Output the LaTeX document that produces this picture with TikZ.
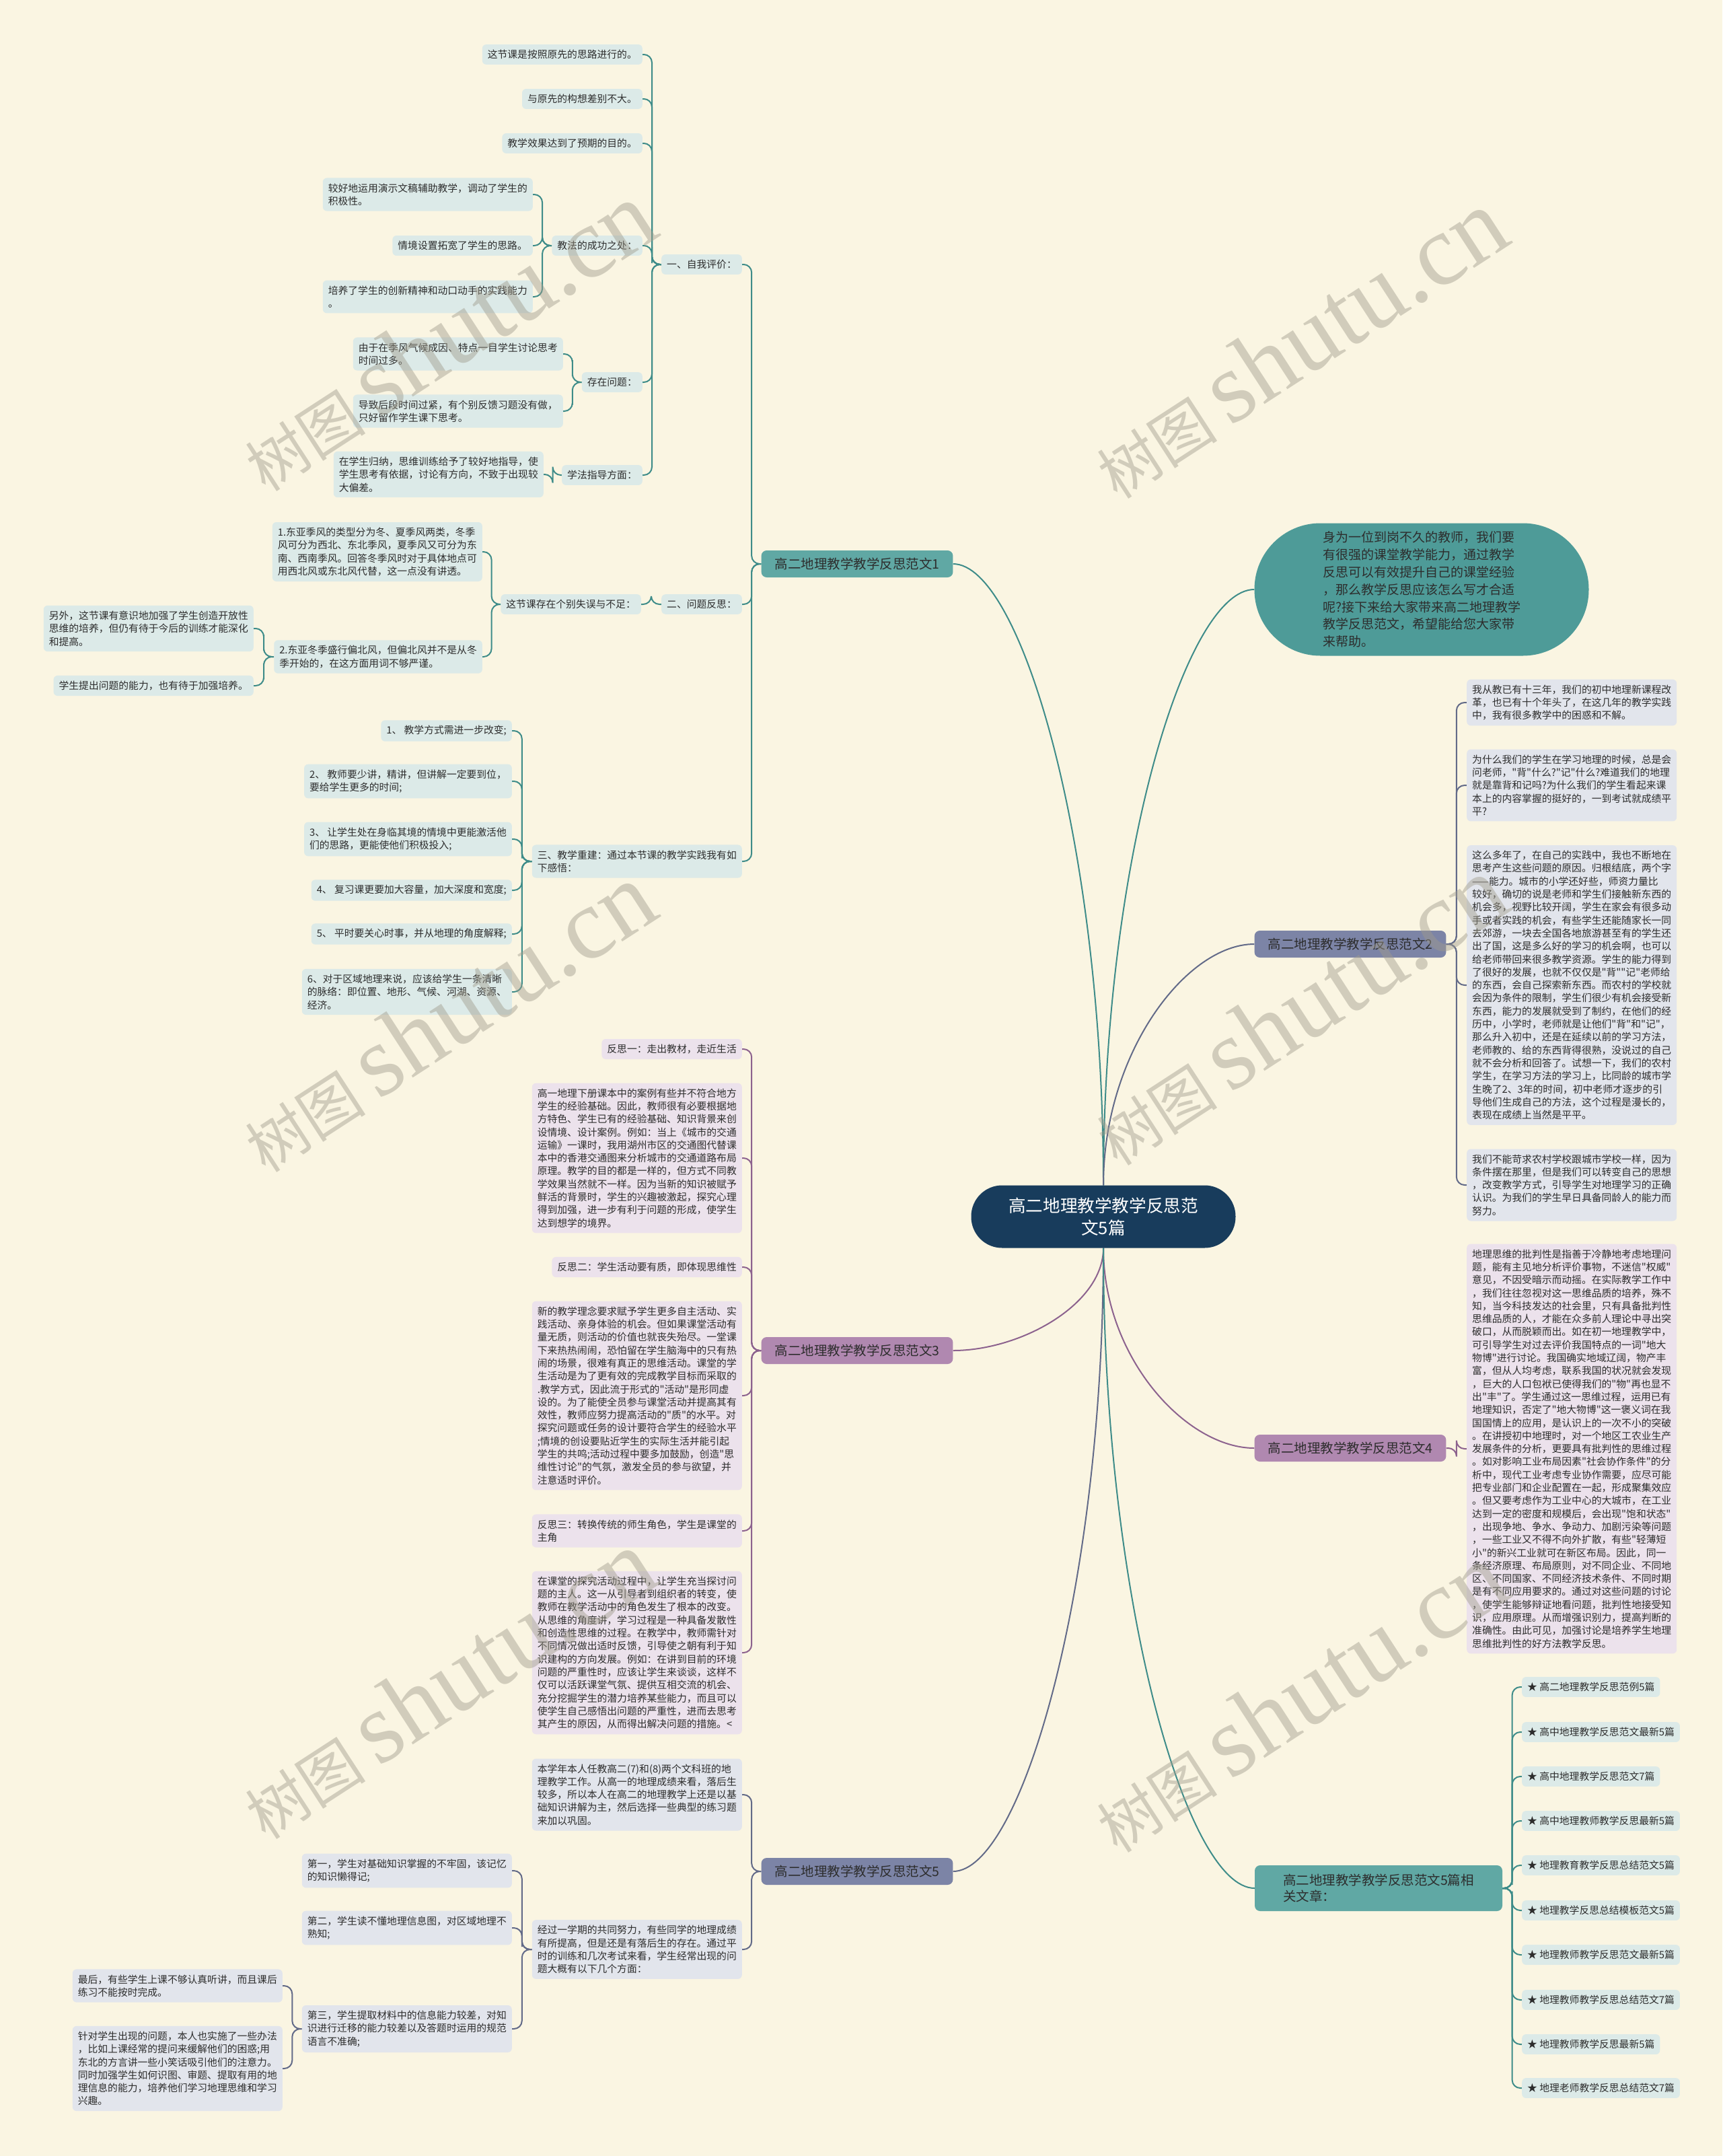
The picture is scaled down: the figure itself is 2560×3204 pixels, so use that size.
\documentclass[tikz,border=0pt]{standalone}
\usepackage{fontspec}
\setmainfont{Noto Sans CJK SC}[Ligatures=TeXOff]
\newfontfamily\markfont{Liberation Serif}
\usetikzlibrary{calc}
\definecolor{paper}{RGB}{250,245,226}
\definecolor{ink}{RGB}{45,45,45}
\definecolor{navy}{RGB}{24,60,92}
\definecolor{tealmain}{RGB}{78,155,152}
\definecolor{tealtopic}{RGB}{96,168,164}
\definecolor{tealline}{RGB}{62,140,137}
\definecolor{tealpale}{RGB}{220,234,232}
\definecolor{slatemain}{RGB}{124,132,166}
\definecolor{slateline}{RGB}{98,106,136}
\definecolor{slatepale}{RGB}{226,229,236}
\definecolor{plummain}{RGB}{176,136,176}
\definecolor{plumline}{RGB}{140,98,142}
\definecolor{plumpale}{RGB}{236,226,236}
\definecolor{wmgray}{RGB}{160,156,140}
\pgfdeclarelayer{paperlayer}
\pgfdeclarelayer{lines}
\pgfsetlayers{paperlayer,lines,main}

\begin{document}
\begin{tikzpicture}[x=1pt, y=-1pt,
    topic/.style={rounded corners=8pt, minimum width=284pt, minimum height=40pt, inner xsep=20pt, inner ysep=9pt,
        font=\fontsize{19.5}{24}\selectfont, text=ink},
    leaf/.style={rounded corners=6pt, inner xsep=8pt, inner ysep=8pt, align=left,
        font=\fontsize{14.8}{19.3}\selectfont, text=ink},
    tealleaf/.style={leaf, fill=tealpale},
    slateleaf/.style={leaf, fill=slatepale},
    plumleaf/.style={leaf, fill=plumpale},
    link/.style={line width=2pt, rounded corners=12pt,
        to path={-| ($(\tikztostart)!.5!(\tikztotarget)$) |- (\tikztotarget)}},
    hub/.style={line width=2pt,
        to path={.. controls ($(\tikztostart)!.55!(\tikztostart |- \tikztotarget)$)
            and ($(\tikztotarget)!.45!(\tikztostart |- \tikztotarget)$) .. (\tikztotarget)}},
    wmark/.style={text=wmgray, opacity=0.45, rotate=33, inner sep=0pt}
    ]
\begin{pgfonlayer}{paperlayer}
    \fill[paper] (0,0) rectangle (2560,3204);
\end{pgfonlayer}
\useasboundingbox (0,0) rectangle (2560,3204);

\node[fill=navy, text=white, rounded corners=46pt, minimum width=393pt, minimum height=93pt, align=center,
    font=\fontsize{25.6}{33}\selectfont] (ctr) at (1640,1808) {高二地理教学教学反思范\\文5篇};

\node[fill=tealmain, text=ink, rounded corners=98pt, minimum width=497pt, minimum height=197pt, align=left,
    font=\fontsize{19}{25.8}\selectfont] (intro) at (2113,876)
    {身为一位到岗不久的教师，我们要\\有很强的课堂教学能力，通过教学\\反思可以有效提升自己的课堂经验\\，那么教学反思应该怎么写才合适\\呢?接下来给大家带来高二地理教学\\教学反思范文，希望能给您大家带\\来帮助。};

\node[topic, fill=tealtopic] (f1) at (1274,838) {高二地理教学教学反思范文1};
\node[topic, fill=slatemain] (f2) at (2007,1403) {高二地理教学教学反思范文2};
\node[topic, fill=plummain] (f3) at (1274,2007) {高二地理教学教学反思范文3};
\node[topic, fill=plummain] (f4) at (2007,2152) {高二地理教学教学反思范文4};
\node[topic, fill=slatemain] (f5) at (1274,2781) {高二地理教学教学反思范文5};
\node[topic, fill=tealtopic, minimum width=368pt, minimum height=68pt, align=left] (f6) at (2049,2806)
    {高二地理教学教学反思范文5篇相\\关文章：};

% 范文1
\node[tealleaf, anchor=east] (a) at (1103,393) {一、自我评价：};
\node[tealleaf, anchor=east] (a1) at (955,81) {这节课是按照原先的思路进行的。};
\node[tealleaf, anchor=east] (a2) at (955,147) {与原先的构想差别不大。};
\node[tealleaf, anchor=east] (a3) at (955,213) {教学效果达到了预期的目的。};
\node[tealleaf, anchor=east] (a4) at (955,365) {教法的成功之处：};
\node[tealleaf, anchor=east] (a5) at (955,568) {存在问题：};
\node[tealleaf, anchor=east] (a6) at (955,706) {学法指导方面：};
\node[tealleaf, anchor=east] (a41) at (792,289) {较好地运用演示文稿辅助教学，调动了学生的\\积极性。};
\node[tealleaf, anchor=east] (a42) at (792,365) {情境设置拓宽了学生的思路。};
\node[tealleaf, anchor=east] (a43) at (792,441) {培养了学生的创新精神和动口动手的实践能力\\。};
\node[tealleaf, anchor=east] (a51) at (837,526) {由于在季风气候成因、特点一目学生讨论思考\\时间过多。};
\node[tealleaf, anchor=east] (a52) at (837,611) {导致后段时间过紧，有个别反馈习题没有做，\\只好留作学生课下思考。};
\node[tealleaf, anchor=east] (a61) at (808,705) {在学生归纳，思维训练给予了较好地指导，使\\学生思考有依据，讨论有方向，不致于出现较\\大偏差。};

\node[tealleaf, anchor=east] (b) at (1103,898) {二、问题反思：};
\node[tealleaf, anchor=east] (b1) at (953,898) {这节课存在个别失误与不足：};
\node[tealleaf, anchor=east] (b11) at (717,820) {1.东亚季风的类型分为冬、夏季风两类，冬季\\风可分为西北、东北季风，夏季风又可分为东\\南、西南季风。回答冬季风时对于具体地点可\\用西北风或东北风代替，这一点没有讲透。};
\node[tealleaf, anchor=east] (b12) at (717,976) {2.东亚冬季盛行偏北风，但偏北风并不是从冬\\季开始的，在这方面用词不够严谨。};
\node[tealleaf, anchor=east] (b121) at (377,934) {另外，这节课有意识地加强了学生创造开放性\\思维的培养，但仍有待于今后的训练才能深化\\和提高。};
\node[tealleaf, anchor=east] (b122) at (377,1019) {学生提出问题的能力，也有待于加强培养。};

\node[tealleaf, anchor=east] (c) at (1103,1280) {三、教学重建：通过本节课的教学实践我有如\\下感悟：};
\node[tealleaf, anchor=east] (c1) at (761,1086) {1、 教学方式需进一步改变;};
\node[tealleaf, anchor=east] (c2) at (761,1161) {2、 教师要少讲，精讲，但讲解一定要到位，\\要给学生更多的时间;};
\node[tealleaf, anchor=east] (c3) at (761,1247) {3、 让学生处在身临其境的情境中更能激活他\\们的思路，更能使他们积极投入;};
\node[tealleaf, anchor=east] (c4) at (761,1323) {4、 复习课更要加大容量，加大深度和宽度;};
\node[tealleaf, anchor=east] (c5) at (761,1388) {5、 平时要关心时事，并从地理的角度解释;};
\node[tealleaf, anchor=east] (c6) at (761,1474) {6、对于区域地理来说，应该给学生一条清晰\\的脉络：即位置、地形、气候、河湖、资源、\\经济。};

% 范文3
\node[plumleaf, anchor=east] (r1) at (1103,1559) {反思一：走出教材，走近生活};
\node[plumleaf, anchor=east] (t1) at (1103,1721) {高一地理下册课本中的案例有些并不符合地方\\学生的经验基础。因此，教师很有必要根据地\\方特色、学生已有的经验基础、知识背景来创\\设情境、设计案例。例如：当上《城市的交通\\运输》一课时，我用湖州市区的交通图代替课\\本中的香港交通图来分析城市的交通道路布局\\原理。教学的目的都是一样的，但方式不同教\\学效果当然就不一样。因为当新的知识被赋予\\鲜活的背景时，学生的兴趣被激起，探究心理\\得到加强，进一步有利于问题的形成，使学生\\达到想学的境界。};
\node[plumleaf, anchor=east] (r2) at (1103,1883) {反思二：学生活动要有质，即体现思维性};
\node[plumleaf, anchor=east] (t2) at (1103,2074) {新的教学理念要求赋予学生更多自主活动、实\\践活动、亲身体验的机会。但如果课堂活动有\\量无质，则活动的价值也就丧失殆尽。一堂课\\下来热热闹闹，恐怕留在学生脑海中的只有热\\闹的场景，很难有真正的思维活动。课堂的学\\生活动是为了更有效的完成教学目标而采取的\\.教学方式，因此流于形式的"活动"是形同虚\\设的。为了能使全员参与课堂活动并提高其有\\效性，教师应努力提高活动的"质"的水平。对\\探究问题或任务的设计要符合学生的经验水平\\;情境的创设要贴近学生的实际生活并能引起\\学生的共鸣;活动过程中要多加鼓励，创造"思\\维性讨论"的气氛，激发全员的参与欲望，并\\注意适时评价。};
\node[plumleaf, anchor=east] (r3) at (1103,2275) {反思三：转换传统的师生角色，学生是课堂的\\主角};
\node[plumleaf, anchor=east] (t3) at (1103,2456) {在课堂的探究活动过程中，让学生充当探讨问\\题的主人。这一从引导者到组织者的转变，使\\教师在教学活动中的角色发生了根本的改变。\\从思维的角度讲，学习过程是一种具备发散性\\和创造性思维的过程。在教学中，教师需针对\\不同情况做出适时反馈，引导使之朝有利于知\\识建构的方向发展。例如：在讲到目前的环境\\问题的严重性时，应该让学生来谈谈，这样不\\仅可以活跃课堂气氛、提供互相交流的机会、\\充分挖掘学生的潜力培养某些能力，而且可以\\使学生自己感悟出问题的严重性，进而去思考\\其产生的原因，从而得出解决问题的措施。<};

% 范文5
\node[slateleaf, anchor=east] (e1) at (1103,2667) {本学年本人任教高二(7)和(8)两个文科班的地\\理教学工作。从高一的地理成绩来看，落后生\\较多，所以本人在高二的地理教学上还是以基\\础知识讲解为主，然后选择一些典型的练习题\\来加以巩固。};
\node[slateleaf, anchor=east] (e2) at (1103,2897) {经过一学期的共同努力，有些同学的地理成绩\\有所提高，但是还是有落后生的存在。通过平\\时的训练和几次考试来看，学生经常出现的问\\题大概有以下几个方面：};
\node[slateleaf, anchor=east] (e21) at (761,2780) {第一，学生对基础知识掌握的不牢固，该记忆\\的知识懒得记;};
\node[slateleaf, anchor=east] (e22) at (761,2865) {第二，学生读不懂地理信息图，对区域地理不\\熟知;};
\node[slateleaf, anchor=east] (e23) at (761,3015) {第三，学生提取材料中的信息能力较差，对知\\识进行迁移的能力较差以及答题时运用的规范\\语言不准确;};
\node[slateleaf, anchor=east] (e231) at (420,2951) {最后，有些学生上课不够认真听讲，而且课后\\练习不能按时完成。};
\node[slateleaf, anchor=east] (e232) at (420,3074) {针对学生出现的问题，本人也实施了一些办法\\，比如上课经常的提问来缓解他们的困惑;用\\东北的方言讲一些小笑话吸引他们的注意力。\\同时加强学生如何识图、审题、提取有用的地\\理信息的能力，培养他们学习地理思维和学习\\兴趣。};

% 范文2
\node[slateleaf, anchor=west] (d1) at (2180,1044) {我从教已有十三年，我们的初中地理新课程改\\革，也已有十个年头了，在这几年的教学实践\\中，我有很多教学中的困惑和不解。};
\node[slateleaf, anchor=west] (d2) at (2180,1167) {为什么我们的学生在学习地理的时候，总是会\\问老师，"背"什么?"记"什么?难道我们的地理\\就是靠背和记吗?为什么我们的学生看起来课\\本上的内容掌握的挺好的，一到考试就成绩平\\平?};
\node[slateleaf, anchor=west] (d3) at (2180,1464) {这么多年了，在自己的实践中，我也不断地在\\思考产生这些问题的原因。归根结底，两个字\\——能力。城市的小学还好些，师资力量比\\较好，确切的说是老师和学生们接触新东西的\\机会多，视野比较开阔，学生在家会有很多动\\手或者实践的机会，有些学生还能随家长一同\\去郊游，一块去全国各地旅游甚至有的学生还\\出了国，这是多么好的学习的机会啊，也可以\\给老师带回来很多教学资源。学生的能力得到\\了很好的发展，也就不仅仅是"背""记"老师给\\的东西，会自己探索新东西。而农村的学校就\\会因为条件的限制，学生们很少有机会接受新\\东西，能力的发展就受到了制约，在他们的经\\历中，小学时，老师就是让他们"背"和"记"，\\那么升入初中，还是在延续以前的学习方法，\\老师教的、给的东西背得很熟，没说过的自己\\就不会分析和回答了。试想一下，我们的农村\\学生，在学习方法的学习上，比同龄的城市学\\生晚了2、3年的时间，初中老师才逐步的引\\导他们生成自己的方法，这个过程是漫长的，\\表现在成绩上当然是平平。};
\node[slateleaf, anchor=west] (d4) at (2180,1761) {我们不能苛求农村学校跟城市学校一样，因为\\条件摆在那里，但是我们可以转变自己的思想\\，改变教学方式，引导学生对地理学习的正确\\认识。为我们的学生早日具备同龄人的能力而\\努力。};

% 范文4
\node[plumleaf, anchor=west] (g1) at (2180,2153) {地理思维的批判性是指善于冷静地考虑地理问\\题，能有主见地分析评价事物，不迷信"权威"\\意见，不因受暗示而动摇。在实际教学工作中\\，我们往往忽视对这一思维品质的培养，殊不\\知，当今科技发达的社会里，只有具备批判性\\思维品质的人，才能在众多前人理论中寻出突\\破口，从而脱颖而出。如在初一地理教学中，\\可引导学生对过去评价我国特点的一词"地大\\物博"进行讨论。我国确实地域辽阔，物产丰\\富，但从人均考虑，联系我国的状况就会发现\\，巨大的人口包袱已使得我们的"物"再也显不\\出"丰"了。学生通过这一思维过程，运用已有\\地理知识，否定了"地大物博"这一褒义词在我\\国国情上的应用，是认识上的一次不小的突破\\。在讲授初中地理时，对一个地区工农业生产\\发展条件的分析，更要具有批判性的思维过程\\。如对影响工业布局因素"社会协作条件"的分\\析中，现代工业考虑专业协作需要，应尽可能\\把专业部门和企业配置在一起，形成聚集效应\\。但又要考虑作为工业中心的大城市，在工业\\达到一定的密度和规模后，会出现"饱和状态"\\，出现争地、争水、争动力、加剧污染等问题\\，一些工业又不得不向外扩散，有些"轻薄短\\小"的新兴工业就可在新区布局。因此，同一\\条经济原理、布局原则，对不同企业、不同地\\区、不同国家、不同经济技术条件、不同时期\\是有不同应用要求的。通过对这些问题的讨论\\，使学生能够辩证地看问题，批判性地接受知\\识，应用原理。从而增强识别力，提高判断的\\准确性。由此可见，加强讨论是培养学生地理\\思维批判性的好方法教学反思。};

% 相关文章
\node[tealleaf, anchor=west] (h1) at (2262,2507) {★ 高二地理教学反思范例5篇};
\node[tealleaf, anchor=west] (h2) at (2262,2574) {★ 高中地理教学反思范文最新5篇};
\node[tealleaf, anchor=west] (h3) at (2262,2640) {★ 高中地理教学反思范文7篇};
\node[tealleaf, anchor=west] (h4) at (2262,2706) {★ 高中地理教师教学反思最新5篇};
\node[tealleaf, anchor=west] (h5) at (2262,2772) {★ 地理教育教学反思总结范文5篇};
\node[tealleaf, anchor=west] (h6) at (2262,2839) {★ 地理教学反思总结模板范文5篇};
\node[tealleaf, anchor=west] (h7) at (2262,2905) {★ 地理教师教学反思范文最新5篇};
\node[tealleaf, anchor=west] (h8) at (2262,2972) {★ 地理教师教学反思总结范文7篇};
\node[tealleaf, anchor=west] (h9) at (2262,3038) {★ 地理教师教学反思最新5篇};
\node[tealleaf, anchor=west] (h10) at (2262,3103) {★ 地理老师教学反思总结范文7篇};

\begin{pgfonlayer}{lines}
    \draw[hub, tealline] (ctr.north) to (f1.east);
    \draw[hub, tealline] (ctr.north) to (intro.west);
    \draw[hub, slateline] (ctr.north) to (f2.west);
    \draw[hub, plumline] (ctr.south) to (f3.east);
    \draw[hub, plumline] (ctr.south) to (f4.west);
    \draw[hub, slateline] (ctr.south) to (f5.east);
    \draw[hub, tealline] (ctr.south) to (f6.west);
    \foreach \k in {a,b,c} \draw[link, tealline] (f1.west) to (\k.east);
    \foreach \k in {a1,a2,a3,a4,a5,a6} \draw[link, tealline] (a.west) to (\k.east);
    \foreach \k in {a41,a42,a43} \draw[link, tealline] (a4.west) to (\k.east);
    \foreach \k in {a51,a52} \draw[link, tealline] (a5.west) to (\k.east);
    \draw[link, tealline] (a6.west) to (a61.east);
    \draw[link, tealline] (b.west) to (b1.east);
    \foreach \k in {b11,b12} \draw[link, tealline] (b1.west) to (\k.east);
    \foreach \k in {b121,b122} \draw[link, tealline] (b12.west) to (\k.east);
    \foreach \k in {c1,c2,c3,c4,c5,c6} \draw[link, tealline] (c.west) to (\k.east);
    \foreach \k in {r1,t1,r2,t2,r3,t3} \draw[link, plumline] (f3.west) to (\k.east);
    \foreach \k in {e1,e2} \draw[link, slateline] (f5.west) to (\k.east);
    \foreach \k in {e21,e22,e23} \draw[link, slateline] (e2.west) to (\k.east);
    \foreach \k in {e231,e232} \draw[link, slateline] (e23.west) to (\k.east);
    \foreach \k in {d1,d2,d3,d4} \draw[link, slateline] (f2.east) to (\k.west);
    \draw[link, plumline] (f4.east) to (g1.west);
    \foreach \k in {h1,h2,h3,h4,h5,h6,h7,h8,h9,h10} \draw[link, tealline] (f6.east) to (\k.west);
\end{pgfonlayer}

\node[wmark] (wm1) at (664,500) {\fontsize{90}{90}\selectfont 树图 \markfont\fontsize{150}{150}\selectfont shutu.cn};
\node[wmark] (wm2) at (1930,511) {\fontsize{90}{90}\selectfont 树图 \markfont\fontsize{150}{150}\selectfont shutu.cn};
\node[wmark] (wm3) at (664,1512) {\fontsize{90}{90}\selectfont 树图 \markfont\fontsize{150}{150}\selectfont shutu.cn};
\node[wmark] (wm4) at (1930,1502) {\fontsize{90}{90}\selectfont 树图 \markfont\fontsize{150}{150}\selectfont shutu.cn};
\node[wmark] (wm5) at (664,2503) {\fontsize{90}{90}\selectfont 树图 \markfont\fontsize{150}{150}\selectfont shutu.cn};
\node[wmark] (wm6) at (1930,2523) {\fontsize{90}{90}\selectfont 树图 \markfont\fontsize{150}{150}\selectfont shutu.cn};
\end{tikzpicture}
\end{document}
